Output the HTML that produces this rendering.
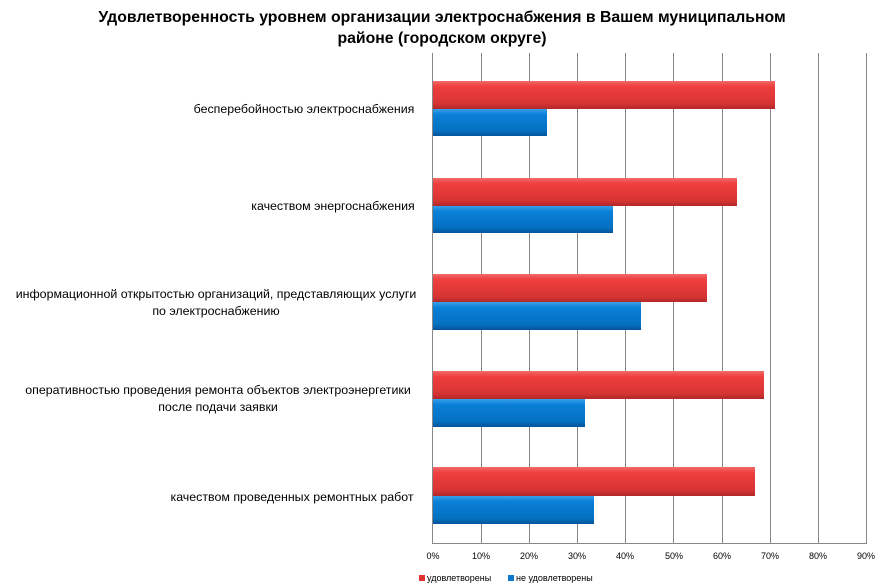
<!DOCTYPE html>
<html><head><meta charset="utf-8"><style>body{margin:0;background:#fff}svg{display:block}</style></head><body>
<svg width="879" height="588" xmlns="http://www.w3.org/2000/svg" font-family="Liberation Sans, sans-serif">
<defs>
<linearGradient id="r" x1="0" y1="0" x2="0" y2="1"><stop offset="0" stop-color="#f26a6a"/><stop offset="0.2" stop-color="#ef3e3e"/><stop offset="0.8" stop-color="#d83434"/><stop offset="1" stop-color="#b02828"/></linearGradient>
<linearGradient id="b" x1="0" y1="0" x2="0" y2="1"><stop offset="0" stop-color="#3aa0e8"/><stop offset="0.2" stop-color="#0a80d8"/><stop offset="0.8" stop-color="#0470c0"/><stop offset="1" stop-color="#04549a"/></linearGradient>
</defs>
<text x="442" y="22" text-anchor="middle" font-size="15.8" font-weight="bold">Удовлетворенность уровнем организации электроснабжения в Вашем муниципальном</text>
<text x="442" y="43" text-anchor="middle" font-size="15.8" font-weight="bold">районе (городском округе)</text>
<g stroke="#888" stroke-width="1">
<line x1="432.5" y1="53" x2="432.5" y2="543"/><line x1="481.5" y1="53" x2="481.5" y2="543"/><line x1="529.5" y1="53" x2="529.5" y2="543"/><line x1="577.5" y1="53" x2="577.5" y2="543"/><line x1="625.5" y1="53" x2="625.5" y2="543"/><line x1="673.5" y1="53" x2="673.5" y2="543"/><line x1="722.5" y1="53" x2="722.5" y2="543"/><line x1="770.5" y1="53" x2="770.5" y2="543"/><line x1="818.5" y1="53" x2="818.5" y2="543"/><line x1="866.5" y1="53" x2="866.5" y2="543"/>
<line x1="432" y1="543.5" x2="867" y2="543.5"/>
</g>
<g>
<rect x="433" y="81" width="342" height="28" fill="url(#r)"/><rect x="433" y="109" width="114" height="27" fill="url(#b)"/>
<rect x="433" y="178" width="304" height="28" fill="url(#r)"/><rect x="433" y="206" width="180" height="27" fill="url(#b)"/>
<rect x="433" y="274" width="274" height="28" fill="url(#r)"/><rect x="433" y="302" width="208" height="28" fill="url(#b)"/>
<rect x="433" y="371" width="331" height="28" fill="url(#r)"/><rect x="433" y="399" width="152" height="28" fill="url(#b)"/>
<rect x="433" y="467" width="322" height="29" fill="url(#r)"/><rect x="433" y="496" width="161" height="28" fill="url(#b)"/>
</g>
<g font-size="12.4" text-anchor="middle" fill="#000">
<text x="304" y="113">бесперебойностью  электроснабжения</text>
<text x="333" y="210">качеством энергоснабжения</text>
<text x="216" y="298">информационной открытостью организаций, представляющих услуги</text>
<text x="216" y="315">по электроснабжению</text>
<text x="218" y="394">оперативностью проведения ремонта объектов электроэнергетики</text>
<text x="218" y="411">после подачи заявки</text>
<text x="292" y="501">качеством проведенных ремонтных  работ</text>
</g>
<g font-size="9" text-anchor="middle">
<text x="433" y="559">0%</text><text x="481" y="559">10%</text><text x="529" y="559">20%</text><text x="577" y="559">30%</text><text x="625" y="559">40%</text><text x="674" y="559">50%</text><text x="722" y="559">60%</text><text x="770" y="559">70%</text><text x="818" y="559">80%</text><text x="866" y="559">90%</text>
</g>
<rect x="419" y="575" width="6" height="6" fill="#e03030"/>
<text x="427" y="581" font-size="9">удовлетворены</text>
<rect x="508" y="575" width="6" height="6" fill="#0a78cc"/>
<text x="516" y="581" font-size="9">не удовлетворены</text>
</svg>
</body></html>
